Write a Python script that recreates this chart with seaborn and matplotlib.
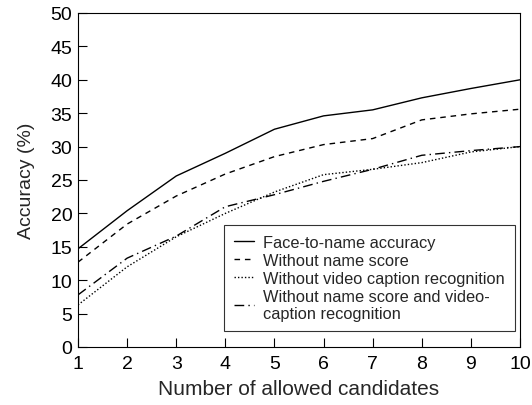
import numpy as np
import pandas as pd
import matplotlib
matplotlib.use("Agg")
import matplotlib.pyplot as plt
import seaborn as sns

candidates = [1, 2, 3, 4, 5, 6, 7, 8, 9, 10]
face_to_name = [14.7, 20.4, 25.6, 29.0, 32.6, 34.6, 35.5, 37.3, 38.7, 40.0]
without_name_score = [12.7, 18.4, 22.6, 25.9, 28.5, 30.3, 31.2, 34.0, 34.9, 35.6]
without_caption = [6.3, 12.0, 16.5, 20.0, 23.2, 25.8, 26.6, 27.6, 29.2, 30.0]
without_both = [7.8, 13.3, 16.6, 21.0, 22.8, 24.8, 26.6, 28.7, 29.4, 30.0]

labels = [
    "Face-to-name accuracy",
    "Without name score",
    "Without video caption recognition",
    "Without name score and video-\ncaption recognition",
]
series = [face_to_name, without_name_score, without_caption, without_both]

rows = []
for lab, vals in zip(labels, series):
    for c, v in zip(candidates, vals):
        rows.append({"candidates": c, "accuracy": v, "method": lab})
df = pd.DataFrame(rows)

sns.set_style("ticks")
plt.rcParams["font.family"] = ["Liberation Sans", "DejaVu Sans"]

fig = plt.figure(figsize=(5.32, 4.06), dpi=100)
ax = fig.add_axes([78 / 532, 1 - 348 / 406, (520 - 78) / 532, (348 - 14) / 406])

dashes = {
    labels[0]: "",
    labels[1]: (4, 3.5),
    labels[2]: (1, 1.5),
    labels[3]: (7, 3, 1, 3),
}
sns.lineplot(data=df, x="candidates", y="accuracy", hue="method", style="method",
             palette=["black"] * 4, dashes=dashes, linewidth=1.0, ax=ax,
             legend=True)

ax.set_xlim(1, 10)
ax.set_ylim(0, 50)
ax.set_xticks(candidates)
ax.set_yticks(np.arange(0, 51, 5))
ax.tick_params(direction="in", length=6.5, width=0.8, labelsize=14, pad=4,
               top=False, right=False, colors="black")
ax.tick_params(axis="x", pad=6)
for sp in ax.spines.values():
    sp.set_linewidth(0.8)
    sp.set_color("black")
    sp.set_visible(True)
ax.set_xlabel("Number of allowed candidates", fontsize=15, labelpad=5)
ax.set_ylabel("Accuracy (%)", fontsize=14, labelpad=11)

leg = ax.legend(loc="lower right", bbox_to_anchor=(0.9887, 0.048), fontsize=11.8,
                handlelength=1.25, handletextpad=0.55, borderpad=0.6,
                labelspacing=0.2, frameon=True, fancybox=False,
                edgecolor="black", borderaxespad=0)
for t in leg.get_texts():
    t.set_linespacing(1.15)
leg.get_frame().set_linewidth(0.8)

fig.savefig("out.png", dpi=100, facecolor="white")
